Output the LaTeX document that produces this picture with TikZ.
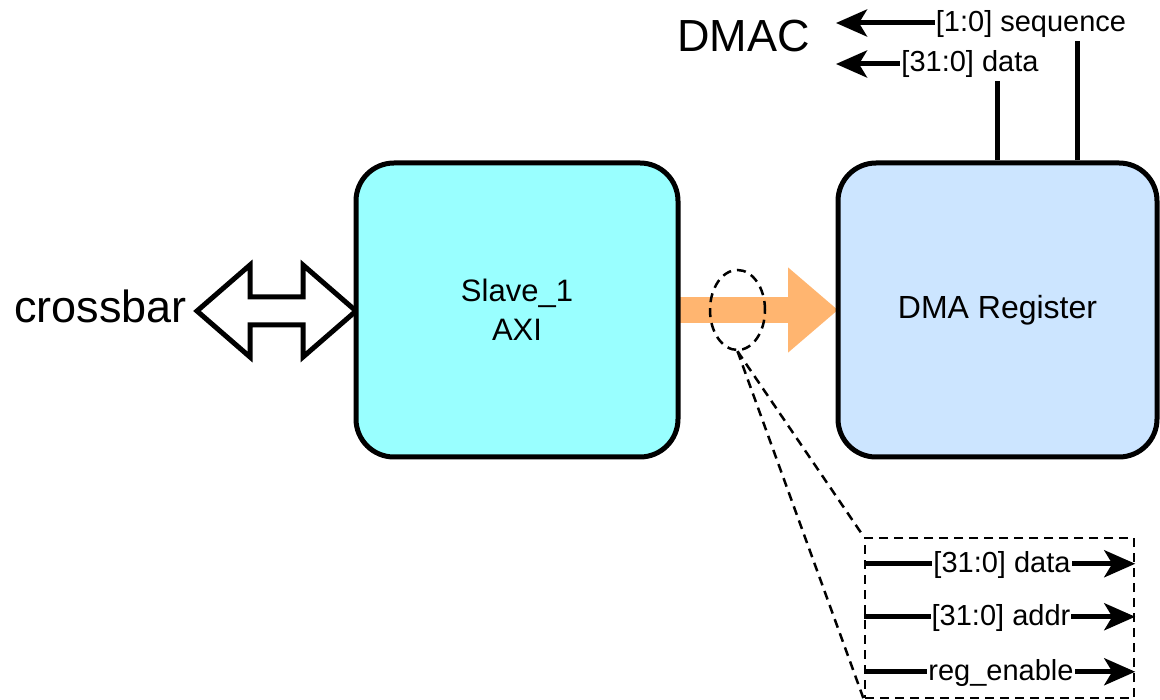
\documentclass[tikz,border=0pt]{standalone}
\usepackage{fontspec}
\setmainfont{Liberation Sans}
\usetikzlibrary{arrows.meta,shapes.geometric}
\definecolor{slavefill}{HTML}{99FFFF}
\definecolor{regfill}{HTML}{CCE5FF}
\definecolor{busorange}{HTML}{FFB570}
\begin{document}
\begin{tikzpicture}[x=1pt,y=-1pt,
  block/.style={draw=black,line width=5pt,rounded corners=38pt,
    minimum height=294pt,inner sep=0pt,align=center},
  sig/.style={line width=5pt,-{Stealth[length=31pt,width=27pt,inset=8pt]}},
  siglabel/.style={fill=white,inner xsep=1pt,inner ysep=3pt,
    font=\fontsize{29}{34}\selectfont},
  zoomline/.style={line width=2.5pt,dash pattern=on 9pt off 6pt},
  bigtext/.style={inner sep=0pt,font=\fontsize{45}{52}\selectfont},
]
\useasboundingbox (0,0) rectangle (1160,700);

% outer labels
\node[bigtext,anchor=base west] (xbar) at (14,323) {crossbar};
\node[bigtext,anchor=base west] (dmac) at (677,52) {DMAC};

% bus from the slave interface to the register block
\coordinate (slaveout) at (678,310);
\coordinate (regin) at (838,310);
\draw[busorange,line width=26pt,-{Triangle[length=50pt,width=82pt]}]
  (slaveout) -- (regin);

% bidirectional crossbar link
\coordinate (xtip) at (356,311);
\draw[line width=5pt,fill=white,line join=miter]
  (xtip) -- ++(-53,-46) -- ++(0,32) -- ++(-53,0) -- ++(0,-32)
  -- ++(-53,46) -- ++(53,46) -- ++(0,-32) -- ++(53,0) -- ++(0,32) -- cycle;

% blocks
\node[block,fill=slavefill,minimum width=322pt,
  font=\fontsize{31}{39}\selectfont] (slave) at (517,310) {Slave\_1\\AXI};
\node[block,fill=regfill,minimum width=319pt,
  font=\fontsize{32}{39}\selectfont] (dma) at (997.5,310) {DMA Register};

% register outputs towards the DMAC
\coordinate (seqend) at (836,23);
\coordinate (dataend) at (836,64);
\draw[sig] ([xshift=242pt]dma.north west) |- (seqend);
\draw[sig] ([xshift=162pt]dma.north west) |- (dataend);
\node[siglabel] (seqlbl) at (1031,24) {[1:0] sequence};
\node[siglabel] (datalbl) at (970,64) {[31:0] data};

% magnified view of the bus signals
\node[draw,zoomline,ellipse,minimum width=55pt,minimum height=80pt,inner sep=0pt]
  (sel) at (737.5,310) {};
\node[draw,zoomline,minimum width=269pt,minimum height=160pt,inner sep=0pt]
  (zoombox) at (999.5,618) {};
\draw[zoomline] (sel.south) -- (zoombox.north west);
\draw[zoomline] (sel.south) -- (zoombox.south west);

\draw[sig] ([yshift=-27pt]zoombox.north west) -- ([yshift=-27pt]zoombox.north east);
\draw[sig] ([yshift=-80pt]zoombox.north west) -- ([yshift=-80pt]zoombox.north east);
\draw[sig] ([yshift=-135pt]zoombox.north west) -- ([yshift=-135pt]zoombox.north east);
\node[siglabel] (busdata) at (1002,565) {[31:0] data};
\node[siglabel] (busaddr) at (1001,618) {[31:0] addr};
\node[siglabel] (busen) at (1001,673) {reg\_enable};
\end{tikzpicture}
\end{document}
